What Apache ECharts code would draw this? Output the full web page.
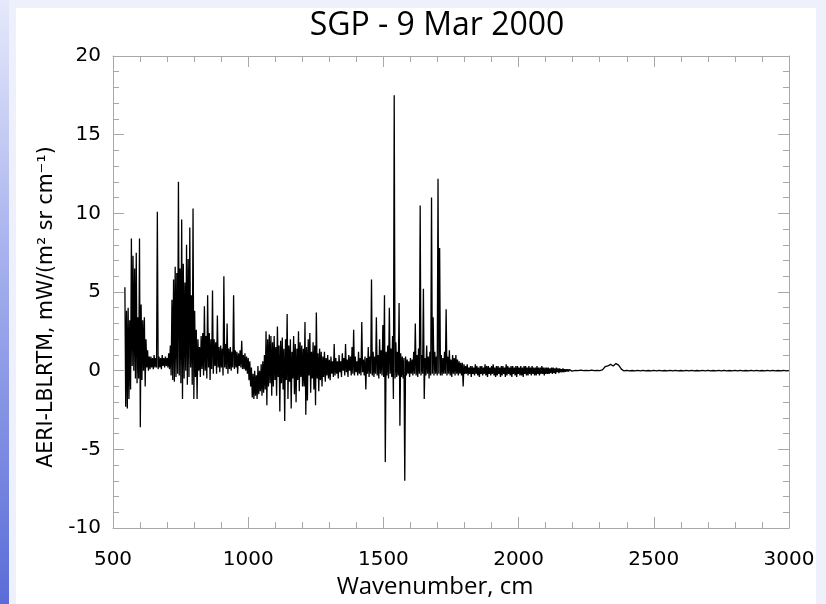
<!DOCTYPE html>
<html>
<head>
<meta charset="utf-8">
<script src="https://cdn.jsdelivr.net/npm/echarts@6/dist/echarts.min.js"></script>
<style>
  html, body { margin: 0; padding: 0; background: #eef0fb; }
  #chart { width: 826px; height: 604px; }
</style>
</head>
<body>
<div id="chart"></div>
<script>
// residual spectrum, mW/(m2 sr cm-1)
// dense part: upper / lower value inside each 6 cm-1 bin

// bins 544 .. 994 cm-1
const hiA = [
  5.3, 3.8, 4.0, 3.2, 8.4, 7.3, 6.5, 7.5, 3.4, 8.4,
  4.2, 3.2, 3.4, 2.0, 1.3, 0.9, 0.9, 0.8, 1.0, 0.8,
  10.1, 0.9, 0.8, 1.0, 0.8, 0.9, 0.8, 1.1, 1.6, 4.5,
  5.8, 6.6, 6.2, 12.0, 6.5, 9.6, 6.8, 5.6, 8.0, 7.1,
  9.1, 4.8, 10.3, 3.8, 2.6, 2.0, 1.5, 2.2, 2.4, 4.1,
  2.2, 4.8, 2.4, 2.0, 5.1, 2.0, 1.8, 3.5, 1.5, 1.6,
  1.4, 6.0, 1.7, 3.0, 1.4, 1.5, 1.2, 4.8, 1.3, 1.2,
  1.1, 1.3, 1.9, 1.0, 1.1, 0.9
];
const loA = [
  -2.3, -2.4, -1.8, -1.2, 0.3, 0.0, -0.5, -0.8, -0.5, -3.6,
  -0.6, 0.0, -1.0, 0.2, 0.0, 0.1, 0.2, 0.1, 0.2, 0.2,
  0.1, 0.2, 0.1, 0.3, 0.2, 0.3, 0.2, 0.1, -0.3, -0.6,
  -0.7, -0.4, -0.2, -0.3, -0.8, -1.8, -0.5, 0.0, -0.9, -0.4,
  0.2, -0.9, -1.8, -0.4, -1.8, 0.0, -0.4, 0.1, -0.3, 0.0,
  -0.5, 0.2, -0.6, 0.1, -0.2, 0.3, -0.2, 0.2, -0.1, 0.2,
  -0.3, 0.2, 0.1, -0.2, 0.1, 0.0, 0.2, 0.1, 0.2, -0.2,
  0.3, 0.2, 0.1, 0.1, 0.0, -0.2
];
// bins 1000 .. 1396 cm-1
const hiB = [
  0.8, 0.6, 0.2, -0.2, 0.0, -0.3, 0.3, 0.0, 0.4, 0.6,
  1.0, 2.5, 2.0, 2.3, 2.2, 1.8, 2.2, 1.5, 2.8, 1.6,
  1.9, 2.1, 1.4, 2.0, 3.6, 1.6, 2.0, 1.2, 2.2, 1.7,
  1.4, 2.5, 1.8, 1.6, 1.4, 3.1, 1.5, 2.0, 2.4, 1.2,
  1.8, 1.6, 3.7, 1.1, 1.4, 1.2, 0.9, 1.2, 0.8, 1.0,
  0.7, 0.9, 0.6, 1.7, 0.8, 0.6, 1.0, 0.6, 1.1, 0.8,
  1.7, 0.7, 1.0, 0.9, 1.5, 2.6, 0.9
];
const loB = [
  -0.6, -1.0, -1.7, -1.8, -1.6, -1.8, -1.5, -1.3, -1.6, -1.4,
  -1.2, -2.2, -1.0, -0.8, -1.6, -1.0, -0.6, -1.6, -0.4, -2.6,
  -0.8, -1.2, -3.2, -0.6, -1.8, -0.7, -2.4, -0.5, -1.5, -2.0,
  -0.6, -1.3, -0.4, -1.0, -1.0, -2.8, -1.9, -0.3, -1.4, -0.5,
  -1.2, -2.2, -0.5, -1.3, -0.6, -1.0, -0.4, -0.7, -0.3, -0.5,
  -0.6, -0.2, -0.4, -0.3, -0.2, -0.5, -0.1, -0.4, 0.0, -0.3,
  -0.1, -0.4, 0.0, -0.3, -0.2, -0.3, -0.1
];
// bins 1402 .. 1798 cm-1
const hiC = [
  0.6, 1.2, 0.8, 3.1, 0.7, 0.9, 0.8, 1.5, 0.9, 5.8,
  1.2, 0.9, 3.4, 1.0, 2.0, 1.3, 2.9, 4.8, 1.2, 1.6,
  4.0, 1.4, 2.2, 17.5, 1.8, 1.2, 4.3, 1.1, 0.9, 0.8,
  0.9, 0.7, 0.6, 0.8, 0.7, 1.2, 3.0, 1.0, 1.4, 10.5,
  1.0, 5.2, 0.8, 1.6, 0.9, 1.2, 11.0, 3.4, 1.2, 0.9,
  12.2, 7.8, 1.0, 0.8, 1.2, 3.9, 0.9, 1.3, 0.7, 1.0,
  0.8, 1.0, 0.7, 0.6, 0.5, 0.5, 0.4
];
const loC = [
  -0.3, -0.2, -0.3, -0.1, -0.3, -1.2, -0.2, -0.4, -0.2, -0.3,
  -0.4, -0.2, -0.3, -0.5, -0.2, -0.3, -0.4, -5.8, -0.3, -0.5,
  -0.2, -0.4, -1.8, -0.5, -0.4, -0.3, -3.5, -0.4, -0.5, -7.0,
  -0.3, -0.2, -0.4, -0.2, -0.3, -0.2, -0.3, -0.4, -0.2, -0.3,
  -0.2, -1.8, -0.3, -0.2, -0.5, -0.3, -0.2, -0.3, -0.2, -0.3,
  -0.2, -0.3, -0.3, -0.2, -0.2, -0.3, -0.2, -0.3, -0.4, -0.2,
  -0.3, -0.2, -0.3, -0.2, -0.3, -1.0, -0.2
];
// bins 1804 .. 2200 cm-1
const hiD = [
  0.3, 0.4, 0.2, 0.3, 0.3, 0.2, 0.4, 0.3, 0.2, 0.3,
  0.3, 0.2, 0.4, 0.3, 0.3, 0.2, 0.3, 0.4, 0.2, 0.3,
  0.3, 0.2, 0.3, 0.3, 0.2, 0.4, 0.3, 0.2, 0.3, 0.3,
  0.2, 0.3, 0.3, 0.2, 0.3, 0.2, 0.3, 0.3, 0.2, 0.3,
  0.2, 0.3, 0.2, 0.2, 0.3, 0.2, 0.2, 0.3, 0.2, 0.2,
  0.2, 0.2, 0.15, 0.2, 0.2, 0.15, 0.2, 0.15, 0.15, 0.1,
  0.15, 0.1, 0.1, 0.1, 0.08, 0.06, 0.05
];
const loD = [
  -0.2, -0.3, -0.2, -0.4, -0.2, -0.3, -0.2, -0.3, -0.4, -0.2,
  -0.3, -0.2, -0.3, -0.4, -0.2, -0.3, -0.2, -0.3, -0.4, -0.3,
  -0.2, -0.4, -0.3, -0.2, -0.4, -0.3, -0.2, -0.3, -0.4, -0.2,
  -0.3, -0.4, -0.2, -0.3, -0.3, -0.4, -0.2, -0.3, -0.3, -0.2,
  -0.3, -0.2, -0.3, -0.3, -0.2, -0.3, -0.2, -0.2, -0.3, -0.2,
  -0.2, -0.2, -0.15, -0.2, -0.15, -0.2, -0.1, -0.15, -0.1, -0.1,
  -0.1, -0.08, -0.06, -0.05, -0.04, -0.03, -0.02
];
// quiet tail, 2210 .. 3000 cm-1 every 10 cm-1
const tailE = [
  0.02, 0.0, 0.03, 0.0, 0.02, 0.0, 0.03, 0.0, 0.02, 0.0,
  0.05, 0.25, 0.3, 0.4, 0.3, 0.45, 0.35, 0.1, -0.02, 0.02,
  -0.02, 0.01, -0.02, 0.02, -0.01, 0.02, -0.02, 0.01, -0.02, 0.02,
  -0.01, 0.02, -0.02, 0.01, -0.02, 0.02, -0.01, 0.02, -0.02, 0.01,
  -0.02, 0.02, -0.01, 0.02, -0.02, 0.01, -0.02, 0.02, -0.01, 0.02,
  -0.02, 0.01, -0.02, 0.02, -0.01, 0.02, -0.02, 0.01, -0.02, 0.02,
  -0.01, 0.02, -0.02, 0.01, -0.02, 0.02, -0.01, 0.02, -0.02, 0.01,
  -0.02, 0.02, -0.01, 0.02, -0.02, 0.01, -0.02, 0.02, -0.01, 0.0
];

// [first bin, bin width, upper, lower]
const binned = [
  [544, 6, hiA, loA],
  [1000, 6, hiB, loB],
  [1402, 6, hiC, loC],
  [1804, 6, hiD, loD]
];
const tailStart = 2210, tailStep = 10;
const xTicks = [500, 3000, 500];   // min, max, interval
const yTicks = [-10, 20, 5];

const points = [];
binned.forEach(([start, w, hi, lo]) => {
  hi.forEach((v, i) => {
    points.push([start + i * w, v]);
    points.push([start + i * w + w / 2, lo[i]]);
  });
});
tailE.forEach((v, i) => points.push([tailStart + i * tailStep, v]));

const font = 'DejaVu Sans';
const nameFont = 'Open Sans';
const boxColor = '#a8a8a8';

function xAxisOf(pos, labels) {
  return {
    type: 'value', position: pos,
    min: xTicks[0], max: xTicks[1], interval: xTicks[2],
    axisLine: { show: true, onZero: false, lineStyle: { color: boxColor, width: 1 } },
    axisTick: { show: true, inside: true, length: 11, lineStyle: { color: boxColor } },
    minorTick: { show: true, splitNumber: 5, length: 6, lineStyle: { color: boxColor } },
    splitLine: { show: false },
    axisLabel: {
      show: labels, color: '#000', fontFamily: font, fontSize: 20, margin: 22,
      formatter: v => String(v)
    },
    name: labels ? 'Wavenumber, cm' : '',
    nameLocation: 'middle', nameGap: 47,
    nameTextStyle: { color: '#000', fontFamily: nameFont, fontSize: 24, padding: [0, 32, 0, 0] }
  };
}
function yAxisOf(pos, labels) {
  return {
    type: 'value', position: pos,
    min: yTicks[0], max: yTicks[1], interval: yTicks[2],
    axisLine: { show: true, onZero: false, lineStyle: { color: boxColor, width: 1 } },
    axisTick: { show: true, inside: true, length: 11, lineStyle: { color: boxColor } },
    minorTick: { show: true, splitNumber: 5, length: 6, lineStyle: { color: boxColor } },
    splitLine: { show: false },
    axisLabel: { show: labels, color: '#000', fontFamily: font, fontSize: 20, margin: 12 },
    name: labels ? 'AERI-LBLRTM, mW/(m\u00B2 sr cm\u207B\u00B9)' : '',
    nameLocation: 'middle', nameGap: 56,
    nameTextStyle: { color: '#000', fontFamily: font, fontSize: 20.5, padding: [0, 30, 0, 0] }
  };
}

const chart = echarts.init(document.getElementById('chart'));
chart.setOption({
  animation: false,
  backgroundColor: '#eef0fb',
  graphic: [
    { type: 'rect', shape: { x: 16, y: 8, width: 800, height: 596 }, style: { fill: '#ffffff' }, z: -10 },
    {
      type: 'rect', shape: { x: 0, y: 0, width: 9, height: 604 }, z: -10,
      style: {
        fill: new echarts.graphic.LinearGradient(0, 0, 0, 1, [
          { offset: 0, color: '#e6e9fa' },
          { offset: 0.4, color: '#aab4ee' },
          { offset: 1, color: '#5a6cd8' }
        ])
      }
    }
  ],
  title: {
    text: 'SGP - 9 Mar 2000',
    left: 432, top: 5, textAlign: 'center',
    textStyle: { color: '#000', fontFamily: nameFont, fontSize: 32, fontWeight: 'normal' }
  },
  grid: { left: 113, right: 37, top: 56, bottom: 73 },
  xAxis: [xAxisOf('bottom', true), xAxisOf('top', false)],
  yAxis: [yAxisOf('left', true), yAxisOf('right', false)],
  series: [{
    type: 'line',
    data: points,
    symbol: 'none',
    lineStyle: { color: '#000', width: 1.3 },
    silent: true
  }]
});
</script>
</body>
</html>
